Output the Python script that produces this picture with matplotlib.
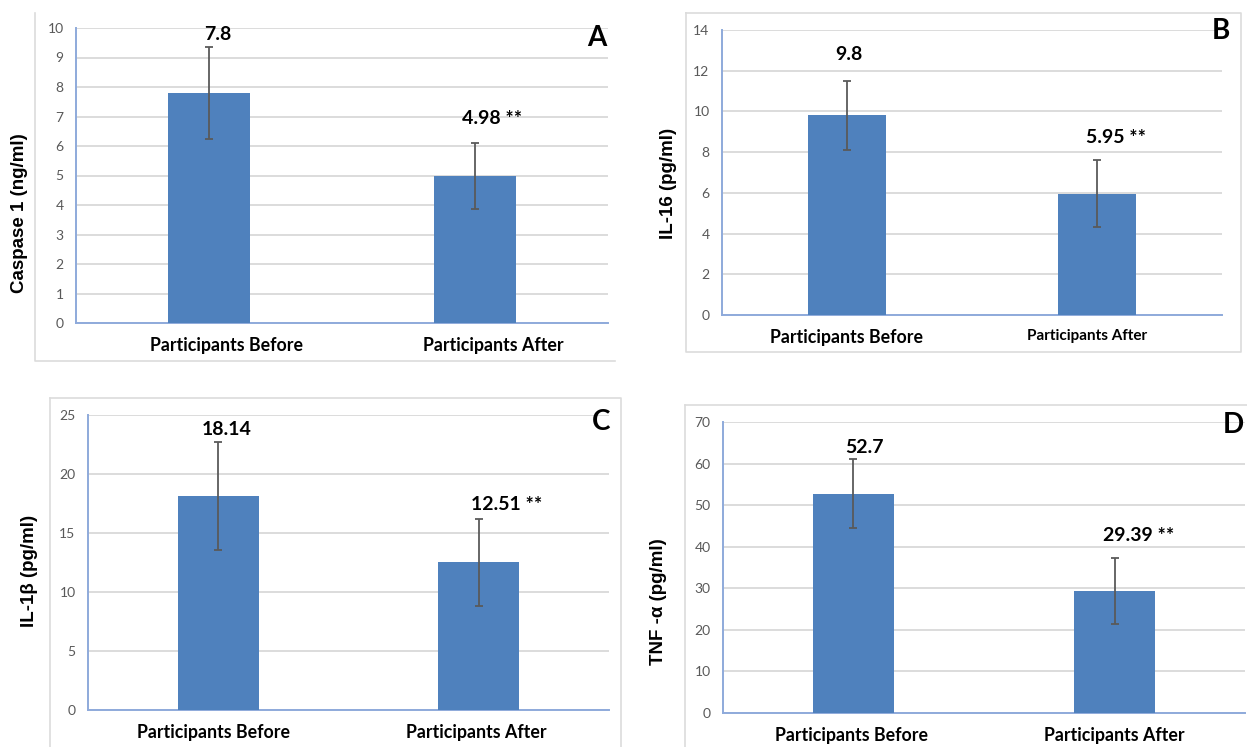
import matplotlib
matplotlib.use("Agg")
import matplotlib.pyplot as plt
from matplotlib.lines import Line2D
from matplotlib.transforms import ScaledTranslation

# data
CATEGORIES = ["Participants Before", "Participants After"]

CASPASE_MEAN = [7.8, 4.98]
CASPASE_ERR = [1.55, 1.12]
CASPASE_LABELS = ["7.8", "4.98 **"]

IL16_MEAN = [9.8, 5.95]
IL16_ERR = [1.68, 1.65]
IL16_LABELS = ["9.8", "5.95 **"]

IL1B_MEAN = [18.14, 12.51]
IL1B_ERR = [4.55, 3.7]
IL1B_LABELS = ["18.14", "12.51 **"]

TNF_MEAN = [52.7, 29.39]
TNF_ERR = [8.3, 7.9]
TNF_LABELS = ["52.7", "29.39 **"]

W, H = 1247, 747
BAR = "#4f81bd"
GRID = "#d9d9d9"
SPINE = "#8eaadb"
FRAME = "#dcdcdc"
NUM_FONT = "Lato"
AXLAB_FONT = "Liberation Sans"


def px_rect(l, t, r, b):
    return [l / W, 1 - b / H, (r - l) / W, (b - t) / H]


def frame_line(fig, xs, ys):
    fig.add_artist(Line2D([x / W for x in xs], [1 - y / H for y in ys],
                          transform=fig.transFigure, color=FRAME, lw=1.2))


def panel(fig, rect, mean, err, labels, ymax, step, ylabel, ylab_xy,
          letter, letter_xy, label_off, tick_dx, tick_sizes=(12.8, 12.8)):
    ax = fig.add_axes(px_rect(*rect))
    x = range(len(mean))
    ax.bar(x, mean, width=0.31, color=BAR, zorder=3)
    ax.errorbar(x, mean, yerr=err, fmt="none", ecolor="#5a5a5a",
                elinewidth=1.3, capsize=3, capthick=1.3, zorder=4)
    ax.set_xlim(-0.5, 1.5)
    ax.set_ylim(0, ymax)
    ax.set_yticks(range(0, ymax + 1, step))
    ax.yaxis.grid(True, color=GRID, lw=1.3, zorder=0)
    ax.set_axisbelow(True)
    for s in ("top", "right"):
        ax.spines[s].set_visible(False)
    for s in ("left", "bottom"):
        ax.spines[s].set_color(SPINE)
        ax.spines[s].set_linewidth(1.4)
    ax.tick_params(axis="y", length=0, pad=9, labelsize=10, labelcolor="#595959")
    ax.tick_params(axis="x", length=0, pad=10)
    for lab in ax.get_yticklabels():
        lab.set_fontfamily(NUM_FONT)
    ax.set_xticks(list(x))
    ax.set_xticklabels(CATEGORIES, fontfamily=NUM_FONT, fontweight="bold")
    for lab, dx, fs in zip(ax.get_xticklabels(), tick_dx, tick_sizes):
        lab.set_fontsize(fs)
        lab.set_transform(lab.get_transform() + ScaledTranslation(dx / 100, 0, fig.dpi_scale_trans))

    for i, (m, e, txt) in enumerate(zip(mean, err, labels)):
        dx, dy = label_off[i]
        ax.annotate(txt, xy=(i, m + e), xytext=(dx, dy), textcoords="offset pixels",
                    ha="center", va="center", fontsize=14, fontweight="bold",
                    fontfamily=NUM_FONT, color="black")

    fig.text(ylab_xy[0] / W, 1 - ylab_xy[1] / H, ylabel, rotation=90,
             ha="center", va="center", fontsize=13.5, fontweight="bold",
             fontfamily=AXLAB_FONT)
    fig.text(letter_xy[0] / W, 1 - letter_xy[1] / H, letter, ha="center",
             va="center", fontsize=20, fontweight="bold", fontfamily=NUM_FONT)
    return ax


fig = plt.figure(figsize=(W / 100, H / 100), dpi=100)
fig.patch.set_facecolor("white")

# light borders of the pasted chart areas
frame_line(fig, [35, 35, 615], [13, 361, 361])
frame_line(fig, [686, 1241, 1241, 686, 686], [13, 13, 352, 352, 13])
frame_line(fig, [50, 50], [747, 398])
frame_line(fig, [50, 621, 621], [398, 398, 747])
frame_line(fig, [685, 685], [747, 405])
frame_line(fig, [685, 1247], [405, 405])

panel(fig, (76, 28, 608, 323), CASPASE_MEAN, CASPASE_ERR, CASPASE_LABELS, 10, 1,
      "Caspase 1 (ng/ml)", (20, 213), "A", (597, 38),
      [(9, 13), (17, 25)], (18, 18))
panel(fig, (722, 30, 1222, 315), IL16_MEAN, IL16_ERR, IL16_LABELS, 14, 2,
      "IL-16 (pg/ml)", (668, 183), "B", (1221, 31),
      [(2, 27), (19, 23)], (0, -10), tick_sizes=(12.8, 11))
panel(fig, (88, 415, 609, 710), IL1B_MEAN, IL1B_ERR, IL1B_LABELS, 25, 5,
      "IL-1β (pg/ml)", (30, 571), "C", (601, 422),
      [(8, 13), (28, 14)], (-5, -2))
panel(fig, (723, 422, 1245, 713), TNF_MEAN, TNF_ERR, TNF_LABELS, 70, 10,
      "TNF -α (pg/ml)", (659, 602), "D", (1233, 425),
      [(11, 12), (24, 22)], (-2, 0))

fig.savefig("out.png", dpi=100, facecolor="white")
